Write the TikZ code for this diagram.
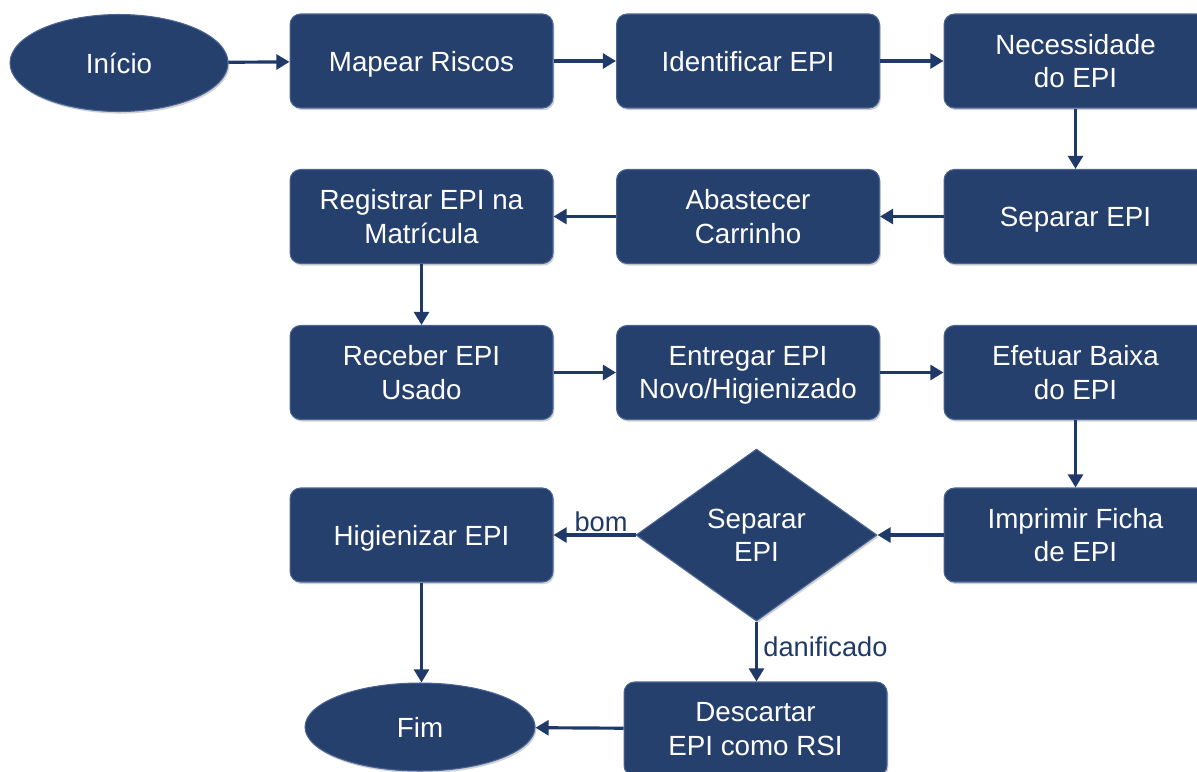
\documentclass[tikz,border=0pt]{standalone}
\usepackage{fontspec}
\setmainfont{Liberation Sans}
\usetikzlibrary{shapes.geometric,arrows.meta,shadows}
\definecolor{boxfill}{HTML}{26406E}
\definecolor{boxedge}{HTML}{4A6494}
\definecolor{arrowc}{HTML}{1F3A68}
\tikzset{
  base/.style={fill=boxfill, draw=boxedge, line width=0.6pt, text=white,
    font=\fontsize{15.8}{19}\selectfont, align=center, inner sep=0pt, text depth=0pt,
    drop shadow={opacity=0.35, shadow xshift=0.8pt, shadow yshift=-1.2pt}},
  procbox/.style={base, rectangle, rounded corners=6pt, minimum width=5.26cm, minimum height=1.88cm},
  terminal/.style={base, ellipse, minimum width=4.36cm, minimum height=1.94cm},
  decision/.style={base, diamond, minimum width=4.82cm, minimum height=3.44cm},
  conn/.style={draw=arrowc, line width=1.8pt, -{Triangle[length=7.5pt,width=8.5pt]}},
  lbl/.style={text=arrowc, font=\fontsize{15.5}{18}\selectfont, inner sep=1pt}
}
\begin{document}
\begin{tikzpicture}[x=0.02cm, y=-0.02cm]
\clip (0,0) rectangle (1197,771);
\fill[white] (0,0) rectangle (1197,771);
% row 1
\node[terminal] (inicio) at (119,63) {Início};
\node[procbox] (mapear) at (421.5,61) {Mapear Riscos};
\node[procbox] (ident) at (748,61) {Identificar EPI};
\node[procbox] (neces) at (1075.5,61) {Necessidade\\do EPI};
% row 2
\node[procbox] (regist) at (421.5,216.5) {Registrar EPI na\\Matrícula};
\node[procbox] (abast) at (748,216.5) {Abastecer\\Carrinho};
\node[procbox] (separar) at (1075.5,216.5) {Separar EPI};
% row 3
\node[procbox] (receber) at (421.5,372.5) {Receber EPI\\Usado};
\node[procbox] (entregar) at (748,372.5) {Entregar EPI\\Novo/Higienizado};
\node[procbox] (efetuar) at (1075.5,372.5) {Efetuar Baixa\\do EPI};
% row 4
\node[procbox] (higien) at (421.5,535) {Higienizar EPI};
\node[decision] (dec) at (756.5,535) {Separar\\EPI};
\node[procbox] (imprimir) at (1075.5,535) {Imprimir Ficha\\de EPI};
% row 5
\node[terminal, minimum width=4.6cm, minimum height=1.76cm] (fim) at (420,727) {Fim};
\node[procbox] (descartar) at (755.5,729) {Descartar\\EPI como RSI};
% connectors
\draw[conn] (inicio) -- (mapear);
\draw[conn] (mapear) -- (ident);
\draw[conn] (ident) -- (neces);
\draw[conn] (neces) -- (separar);
\draw[conn] (separar) -- (abast);
\draw[conn] (abast) -- (regist);
\draw[conn] (regist) -- (receber);
\draw[conn] (receber) -- (entregar);
\draw[conn] (entregar) -- (efetuar);
\draw[conn] (efetuar) -- (imprimir);
\draw[conn] (imprimir) -- (dec);
\draw[conn] (dec) -- node[lbl, above, pos=0.42] {bom} (higien);
\draw[conn] (dec.south) -- node[lbl, right, pos=0.42, xshift=2pt] {danificado} (descartar.north -| dec.south);
\draw[conn] (higien) -- (fim.north -| higien.south);
\draw[conn] (descartar) -- (fim);
\end{tikzpicture}
\end{document}
